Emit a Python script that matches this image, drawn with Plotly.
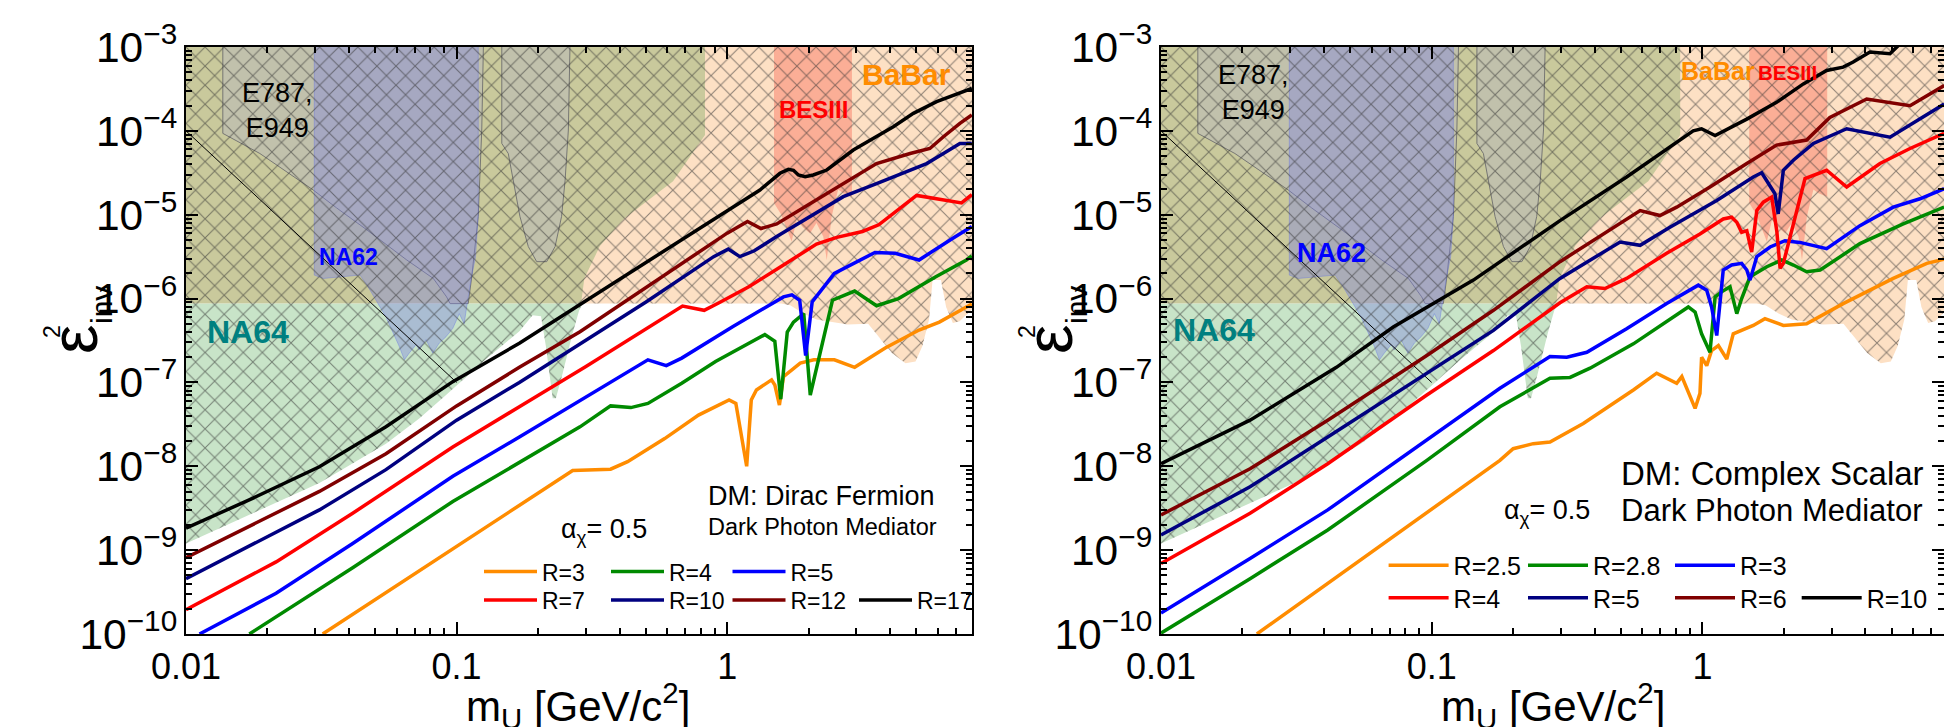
import numpy as np
import plotly.graph_objects as go

# ===================== DATA =====================
# All values are log10 readings: lm = log10(m_U / GeV), le = log10(eps^2_inv)

# ---- Left panel: DM Dirac fermion ----
dirac_labels = ["R=3", "R=4", "R=5", "R=7", "R=10", "R=12", "R=17"]
dirac_R3_lm = [-1.495, -0.571, -0.431, -0.368, -0.231, -0.106, 0.007, 0.032, 0.072, 0.089, 0.108, 0.164, 0.176, 0.193, 0.208, 0.27, 0.32, 0.396, 0.471, 0.584, 0.709, 0.784, 0.884, 0.904]
dirac_R3_le = [-10.0, -8.05, -8.035, -7.945, -7.67, -7.39, -7.21, -7.25, -8.0, -7.21, -7.09, -6.97, -7.03, -7.27, -6.93, -6.77, -6.73, -6.73, -6.82, -6.59, -6.375, -6.28, -6.10, -6.065]
dirac_R4_lm = [-1.766, -1.384, -1.014, -0.768, -0.544, -0.431, -0.356, -0.293, -0.168, -0.043, 0.082, 0.139, 0.176, 0.198, 0.222, 0.245, 0.283, 0.307, 0.389, 0.471, 0.552, 0.633, 0.771, 0.884, 0.904]
dirac_R4_le = [-10.0, -9.21, -8.42, -7.96, -7.53, -7.28, -7.30, -7.25, -7.01, -6.75, -6.53, -6.43, -6.51, -7.20, -6.40, -6.28, -6.18, -7.15, -6.02, -5.91, -6.085, -6.00, -5.74, -5.54, -5.49]
dirac_R5_lm = [-1.95, -1.667, -1.384, -1.014, -0.768, -0.522, -0.293, -0.225, -0.168, 0.02, 0.208, 0.239, 0.268, 0.29, 0.314, 0.396, 0.546, 0.621, 0.709, 0.834, 0.904]
dirac_R5_le = [-10.0, -9.515, -8.92, -8.12, -7.65, -7.17, -6.73, -6.80, -6.71, -6.335, -5.98, -5.955, -6.02, -6.68, -6.04, -5.70, -5.45, -5.46, -5.54, -5.28, -5.14]
dirac_R7_lm = [-2.0, -1.667, -1.384, -1.014, -0.768, -0.522, -0.165, -0.085, -0.03, 0.08, 0.208, 0.33, 0.405, 0.50, 0.56, 0.646, 0.70, 0.866, 0.904]
dirac_R7_le = [-9.71, -9.14, -8.56, -7.77, -7.29, -6.81, -6.09, -6.14, -6.05, -5.86, -5.60, -5.35, -5.27, -5.20, -5.12, -4.90, -4.77, -4.86, -4.76]
dirac_R10_lm = [-2.0, -1.754, -1.507, -1.261, -1.0, -0.768, -0.522, -0.3, -0.05, 0.004, 0.047, 0.10, 0.183, 0.306, 0.429, 0.552, 0.676, 0.737, 0.799, 0.860, 0.904]
dirac_R10_le = [-9.34, -8.93, -8.52, -8.04, -7.45, -7.00, -6.50, -6.04, -5.50, -5.41, -5.50, -5.43, -5.26, -5.02, -4.785, -4.63, -4.47, -4.39, -4.27, -4.15, -4.15]
dirac_R12_lm = [-2.0, -1.754, -1.507, -1.261, -1.0, -0.768, -0.544, 0.0, 0.075, 0.125, 0.183, 0.306, 0.429, 0.552, 0.676, 0.749, 0.799, 0.860, 0.904]
dirac_R12_le = [-9.09, -8.70, -8.30, -7.85, -7.28, -6.82, -6.395, -5.22, -5.08, -5.165, -5.11, -4.87, -4.63, -4.39, -4.27, -4.21, -4.07, -3.91, -3.81]
dirac_R17_lm = [-2.0, -1.754, -1.507, -1.261, -1.014, -0.768, -0.522, 0.0, 0.121, 0.195, 0.226, 0.245, 0.263, 0.288, 0.318, 0.368, 0.466, 0.614, 0.688, 0.774, 0.860, 0.904]
dirac_R17_le = [-8.739, -8.382, -8.005, -7.528, -6.991, -6.533, -6.025, -4.951, -4.705, -4.506, -4.459, -4.47, -4.526, -4.546, -4.526, -4.467, -4.228, -3.950, -3.791, -3.652, -3.552, -3.493]

# ---- Right panel: DM complex scalar ----
scalar_labels = ["R=2.5", "R=2.8", "R=3", "R=4", "R=5", "R=6", "R=10"]
scalar_R25_lm = [-1.646, -0.748, -0.699, -0.625, -0.563, -0.44, -0.255, -0.169, -0.095, -0.076, -0.027, -0.009, -0.003, 0.016, 0.034, 0.059, 0.09, 0.114, 0.188, 0.231, 0.299, 0.385, 0.52, 0.705, 0.829, 0.893]
scalar_R25_le = [-10.0, -7.93, -7.79, -7.73, -7.71, -7.49, -7.09, -6.89, -7.01, -6.93, -7.31, -7.13, -6.70, -6.80, -6.62, -6.56, -6.72, -6.42, -6.32, -6.24, -6.32, -6.30, -6.06, -5.76, -5.58, -5.53]
scalar_R28_lm = [-2.0, -1.671, -1.384, -1.018, -0.748, -0.563, -0.489, -0.415, -0.255, -0.052, -0.027, -0.003, 0.028, 0.047, 0.071, 0.102, 0.127, 0.145, 0.176, 0.238, 0.293, 0.336, 0.385, 0.435, 0.582, 0.742, 0.893]
scalar_R28_le = [-9.99, -9.34, -8.76, -7.93, -7.29, -6.95, -6.94, -6.83, -6.54, -6.10, -6.16, -6.42, -6.64, -5.98, -5.92, -5.86, -6.18, -6.00, -5.74, -5.62, -5.54, -5.60, -5.68, -5.66, -5.345, -5.11, -4.91]
scalar_R3_lm = [-2.0, -1.671, -1.384, -1.018, -0.748, -0.563, -0.501, -0.427, -0.28, -0.132, -0.015, 0.016, 0.034, 0.053, 0.077, 0.108, 0.145, 0.164, 0.176, 0.201, 0.25, 0.305, 0.36, 0.459, 0.582, 0.705, 0.804, 0.893]
scalar_R3_le = [-9.75, -9.10, -8.52, -7.69, -7.07, -6.69, -6.70, -6.64, -6.36, -6.06, -5.84, -5.90, -6.10, -6.44, -5.66, -5.60, -5.58, -5.66, -5.78, -5.50, -5.385, -5.31, -5.33, -5.405, -5.13, -4.91, -4.81, -4.69]
scalar_R4_lm = [-2.0, -1.671, -1.384, -1.018, -0.772, -0.526, -0.427, -0.36, -0.28, -0.132, -0.009, 0.077, 0.108, 0.127, 0.145, 0.164, 0.182, 0.201, 0.225, 0.256, 0.275, 0.287, 0.299, 0.379, 0.459, 0.533, 0.656, 0.767, 0.893]
scalar_R4_le = [-9.16, -8.56, -7.97, -7.15, -6.62, -6.05, -5.86, -5.88, -5.76, -5.46, -5.23, -5.05, -5.03, -5.09, -5.21, -5.19, -5.445, -4.95, -4.85, -4.79, -5.2, -5.64, -5.58, -4.57, -4.47, -4.67, -4.39, -4.21, -4.03]
scalar_R5_lm = [-2.0, -1.671, -1.384, -1.018, -0.772, -0.526, -0.304, -0.23, -0.12, 0.053, 0.188, 0.219, 0.25, 0.268, 0.28, 0.299, 0.336, 0.41, 0.533, 0.693, 0.893]
scalar_R5_le = [-8.82, -8.245, -7.65, -6.89, -6.38, -5.76, -5.325, -5.365, -5.15, -4.83, -4.55, -4.50, -4.65, -4.75, -4.99, -4.47, -4.35, -4.15, -3.975, -4.075, -3.68]
scalar_R6_lm = [-2.0, -1.671, -1.384, -1.018, -0.772, -0.526, -0.23, -0.157, -0.095, 0.028, 0.164, 0.274, 0.385, 0.471, 0.607, 0.767, 0.893]
scalar_R6_le = [-8.58, -8.03, -7.45, -6.68, -6.14, -5.56, -4.95, -5.01, -4.91, -4.67, -4.39, -4.17, -4.11, -3.84, -3.62, -3.70, -3.46]
scalar_R10_lm = [-2.0, -1.671, -1.352, -1.142, -0.846, -0.526, -0.28, -0.034, -0.003, 0.047, 0.164, 0.274, 0.373, 0.459, 0.52, 0.557, 0.619, 0.693, 0.75]
scalar_R10_le = [-7.97, -7.45, -6.82, -6.34, -5.78, -5.07, -4.55, -4.0, -3.975, -4.055, -3.86, -3.66, -3.44, -3.28, -3.24, -3.18, -3.06, -3.08, -2.90]

# ---- Excluded regions (same in both panels) ----
na64_lm = [-2.0, -1.754, -1.507, -1.261, -1.138, -1.039, -0.891, -0.768, -0.719, -0.688, -0.670, -0.645, -0.633, -0.608, -0.571, -0.547, -0.534]
na64_le = [-8.92, -8.56, -8.20, -7.73, -7.43, -7.15, -6.72, -6.39, -6.20, -6.21, -6.57, -7.19, -7.19, -6.89, -6.41, -6.14, -6.06]
babar_lm = [-2.0, 0.2, 0.233, 0.283, 0.33, 0.446, 0.521, 0.558, 0.609, 0.659, 0.696, 0.721, 0.746, 0.759, 0.79, 0.809, 0.834, 0.859, 0.93]
babar_le = [-6.06, -6.06, -6.08, -6.18, -6.25, -6.31, -6.30, -6.45, -6.65, -6.77, -6.75, -6.57, -6.25, -5.78, -5.78, -6.10, -6.29, -6.27, -6.05]
overlap_lm = [-2.0, -0.54, -0.528, -0.47, -0.378, -0.2, -0.082, -0.082, -2.0]
overlap_le = [-6.06, -6.06, -5.76, -5.37, -5.04, -4.6, -4.05, -3.0, -3.0]
e787_lm = [-1.864, -1.864, -1.727, -1.53, -1.443, -1.332, -1.184, -1.086, -1.037, -1.024, -0.957, -0.944, -0.92, -0.907, -0.901]
e787_le = [-3.0, -4.03, -4.27, -4.705, -4.92, -5.18, -5.54, -5.76, -5.98, -6.06, -6.06, -5.74, -5.02, -3.99, -3.0]
e949u_lm = [-0.833, -0.833, -0.809, -0.79, -0.766, -0.735, -0.704, -0.667, -0.636, -0.612, -0.599, -0.587, -0.581]
e949u_le = [-3.0, -4.15, -4.27, -4.59, -5.02, -5.38, -5.56, -5.56, -5.38, -5.02, -4.59, -3.99, -3.0]
na62_lm = [-1.526, -1.526, -1.493, -1.357, -1.329, -1.261, -1.212, -1.193, -1.175, -1.15, -1.138, -1.113, -1.088, -1.064, -1.039, -1.014, -0.99, -0.972, -0.959, -0.947, -0.93, -0.92, -0.92]
na62_le = [-3.0, -5.72, -5.76, -5.72, -5.85, -6.22, -6.57, -6.73, -6.65, -6.55, -6.61, -6.49, -6.65, -6.53, -6.455, -6.355, -6.18, -6.30, -6.02, -5.78, -5.5, -5.0, -3.0]
besiii_lm = [0.173, 0.173, 0.2, 0.225, 0.238, 0.257, 0.28, 0.306, 0.33, 0.355, 0.368, 0.386, 0.41, 0.429, 0.461, 0.461]
besiii_le = [-3.0, -4.86, -5.0, -5.2, -5.32, -5.06, -5.15, -5.22, -5.1, -5.26, -5.54, -5.02, -4.70, -4.745, -4.785, -3.0]
e949_line_lm = [-2.0, -1.0]
e949_line_le = [-4.0, -7.0]
plot_top_le = -3.0
plot_right_lm = 0.93

# ===================== STYLE =====================
FONT = "Liberation Sans, Arial, sans-serif"
W, H = 1944, 727
curve_colors = ["#ff8c00", "#008a00", "#0000ff", "#ff0000", "#000080", "#800000", "#000000"]
PEACH = "#fde0c4"
OLIVE = "#c9c99c"
GREEN = "#c8e4c8"


def px(v):
    return v / W


def py(v):
    return 1 - v / H


def vals(lm, le):
    return (10 ** np.asarray(lm, float)).tolist(), (10 ** np.asarray(le, float)).tolist()


fig = go.Figure()


def add_poly(lm, le, xa, ya, fillcolor, line=None, pattern=None):
    x, y = vals(lm, le)
    kw = dict(x=x, y=y, mode="lines", fill="toself", fillcolor=fillcolor,
              line=line or dict(width=0), hoverinfo="skip", showlegend=False,
              xaxis=xa, yaxis=ya)
    if pattern is not None:
        kw["fillpattern"] = pattern
    fig.add_trace(go.Scatter(**kw))


hatch_lm = na64_lm + [v for v in babar_lm if v > na64_lm[-1]] + [plot_right_lm, -2.0]
hatch_le = na64_le + [e for v, e in zip(babar_lm, babar_le) if v > na64_lm[-1]] + [plot_top_le, plot_top_le]

panels = [
    ("x", "y", dirac_labels,
     [(dirac_R3_lm, dirac_R3_le), (dirac_R4_lm, dirac_R4_le), (dirac_R5_lm, dirac_R5_le),
      (dirac_R7_lm, dirac_R7_le), (dirac_R10_lm, dirac_R10_le), (dirac_R12_lm, dirac_R12_le),
      (dirac_R17_lm, dirac_R17_le)]),
    ("x2", "y2", scalar_labels,
     [(scalar_R25_lm, scalar_R25_le), (scalar_R28_lm, scalar_R28_le), (scalar_R3_lm, scalar_R3_le),
      (scalar_R4_lm, scalar_R4_le), (scalar_R5_lm, scalar_R5_le), (scalar_R6_lm, scalar_R6_le),
      (scalar_R10_lm, scalar_R10_le)]),
]

# legend sample positions (line start x, row centre y) in pixels
leg_pos = [
    [(484, 571.6), (611, 571.6), (732.5, 571.6), (484, 600), (611, 600), (732.5, 600), (859, 600)],
    [(1388.6, 565.6), (1528, 565.6), (1675, 565.6), (1388.6, 598), (1528, 598), (1675, 598), (1801.7, 598)],
]
leg_font = [23, 25]
leg_itemw = [53, 60]

legend_layout = {}
k = 0
for pi, (xa, ya, labels, curves) in enumerate(panels):
    # coloured exclusion regions
    add_poly(babar_lm + [plot_right_lm, -2.0], babar_le + [plot_top_le, plot_top_le], xa, ya, PEACH)
    add_poly(overlap_lm, overlap_le, xa, ya, OLIVE)
    add_poly(na64_lm + [-2.0], na64_le + [na64_le[-1]], xa, ya, GREEN)
    add_poly(e787_lm, e787_le, xa, ya, "rgba(185,185,185,0.55)",
             line=dict(color="rgba(110,110,110,0.9)", width=1))
    add_poly(e949u_lm, e949u_le, xa, ya, "rgba(185,185,185,0.55)",
             line=dict(color="rgba(110,110,110,0.9)", width=1))
    add_poly(na62_lm, na62_le, xa, ya, "rgba(125,130,225,0.40)",
             line=dict(color="rgba(100,115,225,0.5)", width=0.8))
    add_poly(besiii_lm, besiii_le, xa, ya, "rgba(248,105,85,0.42)")
    # cross hatch over the whole excluded area
    add_poly(hatch_lm, hatch_le, xa, ya, "rgba(0,0,0,0)",
             pattern=dict(shape="x", size=13.5, solidity=0.15, fgcolor="#303030",
                          fgopacity=0.55, bgcolor="rgba(0,0,0,0)"))
    lx, ly = vals(e949_line_lm, e949_line_le)
    fig.add_trace(go.Scatter(x=lx, y=ly, mode="lines", line=dict(color="black", width=1),
                             hoverinfo="skip", showlegend=False, xaxis=xa, yaxis=ya))
    # sensitivity curves
    for ci, ((lm, le), lab) in enumerate(zip(curves, labels)):
        k += 1
        lname = "legend" if k == 1 else f"legend{k}"
        x, y = vals(lm, le)
        fig.add_trace(go.Scatter(x=x, y=y, mode="lines", name=lab,
                                 line=dict(color=curve_colors[ci], width=3.5),
                                 hoverinfo="skip", showlegend=True, legend=lname,
                                 xaxis=xa, yaxis=ya))
        lx0, ly0 = leg_pos[pi][ci]
        legend_layout[lname] = dict(
            x=px(lx0 - 5), y=py(ly0), xanchor="left", yanchor="middle",
            bgcolor="rgba(0,0,0,0)", borderwidth=0, itemwidth=leg_itemw[pi],
            font=dict(family=FONT, size=leg_font[pi], color="black"),
            itemclick=False, itemdoubleclick=False)

axis_common = dict(type="log", showline=True, linecolor="black", linewidth=2, mirror="allticks",
                   ticks="inside", ticklen=12, tickwidth=2, tickcolor="black", showgrid=False,
                   zeroline=False, dtick=1, automargin=False,
                   minor=dict(ticks="inside", ticklen=6, tickwidth=1.5, tickcolor="black",
                              showgrid=False, dtick="D1"))
xtick_font = dict(family=FONT, size=36, color="black")
ytick_font = dict(family=FONT, size=34, color="black")
ydom = [py(634), py(47)]

fig.update_layout(
    width=W, height=H, margin=dict(l=0, r=0, t=0, b=0, pad=0, autoexpand=False),
    paper_bgcolor="white", plot_bgcolor="white",
    font=dict(family=FONT, color="black"),
    xaxis=dict(axis_common, domain=[px(186), px(972)], range=[-2, 0.9047], anchor="y",
               tickfont=xtick_font),
    yaxis=dict(axis_common, domain=ydom, range=[-10, -3], anchor="x", exponentformat="power",
               tickfont=ytick_font),
    xaxis2=dict(axis_common, domain=[px(1161), 1.0], range=[-2, 0.8925], anchor="y2",
                tickfont=xtick_font),
    yaxis2=dict(axis_common, domain=ydom, range=[-10, -3], anchor="x2", exponentformat="power",
                tickfont=ytick_font),
    **legend_layout,
)

ann = []


def text(t, x, y, size, color="black", bold=False, xanchor="left", yanchor="middle", angle=0):
    if bold:
        t = f"<b>{t}</b>"
    ann.append(dict(text=t, x=px(x), y=py(y), xref="paper", yref="paper", showarrow=False,
                    xanchor=xanchor, yanchor=yanchor, textangle=angle,
                    font=dict(family=FONT, size=size, color=color)))


for off in (0, 975):
    # axis titles
    text("ε", 74 + off, 340, 66, xanchor="center", angle=-90)
    text("inv", 101 + off, 305, 30, xanchor="center", angle=-90)
    text("2", 52 + off, 332, 23, xanchor="center", angle=-90)
    text("m<sub>U</sub> [GeV/c<sup>2</sup>]", 578 + off, 674, 42, xanchor="center", yanchor="top")

# left panel labels
text("E787,<br>E949", 240, 110, 27)
text("NA62", 317, 257, 23, color="#0000ff", bold=True)
text("NA64", 205, 332, 32, color="#008080", bold=True)
text("BaBar", 860, 74, 30, color="#ff8c00", bold=True)
text("BESIII", 777, 109, 24, color="#ff0000", bold=True)
text("DM: Dirac Fermion", 706, 496, 27)
text("Dark Photon Mediator", 706, 527, 23.5)
text("α<sub>χ</sub>= 0.5", 559, 531, 27)
# right panel labels
text("E787,<br>E949", 1216, 92, 27)
text("NA62", 1295, 253, 27, color="#0000ff", bold=True)
text("NA64", 1171, 330, 32, color="#008080", bold=True)
text("BaBar", 1679, 71, 25, color="#ff8c00", bold=True)
text("BESIII", 1756, 73, 20.5, color="#ff0000", bold=True)
text("DM: Complex Scalar", 1619, 473, 33)
text("Dark Photon Mediator", 1619, 510, 31)
text("α<sub>χ</sub>= 0.5", 1502, 512, 27)

fig.update_layout(annotations=ann)
fig.write_html("out.html")
